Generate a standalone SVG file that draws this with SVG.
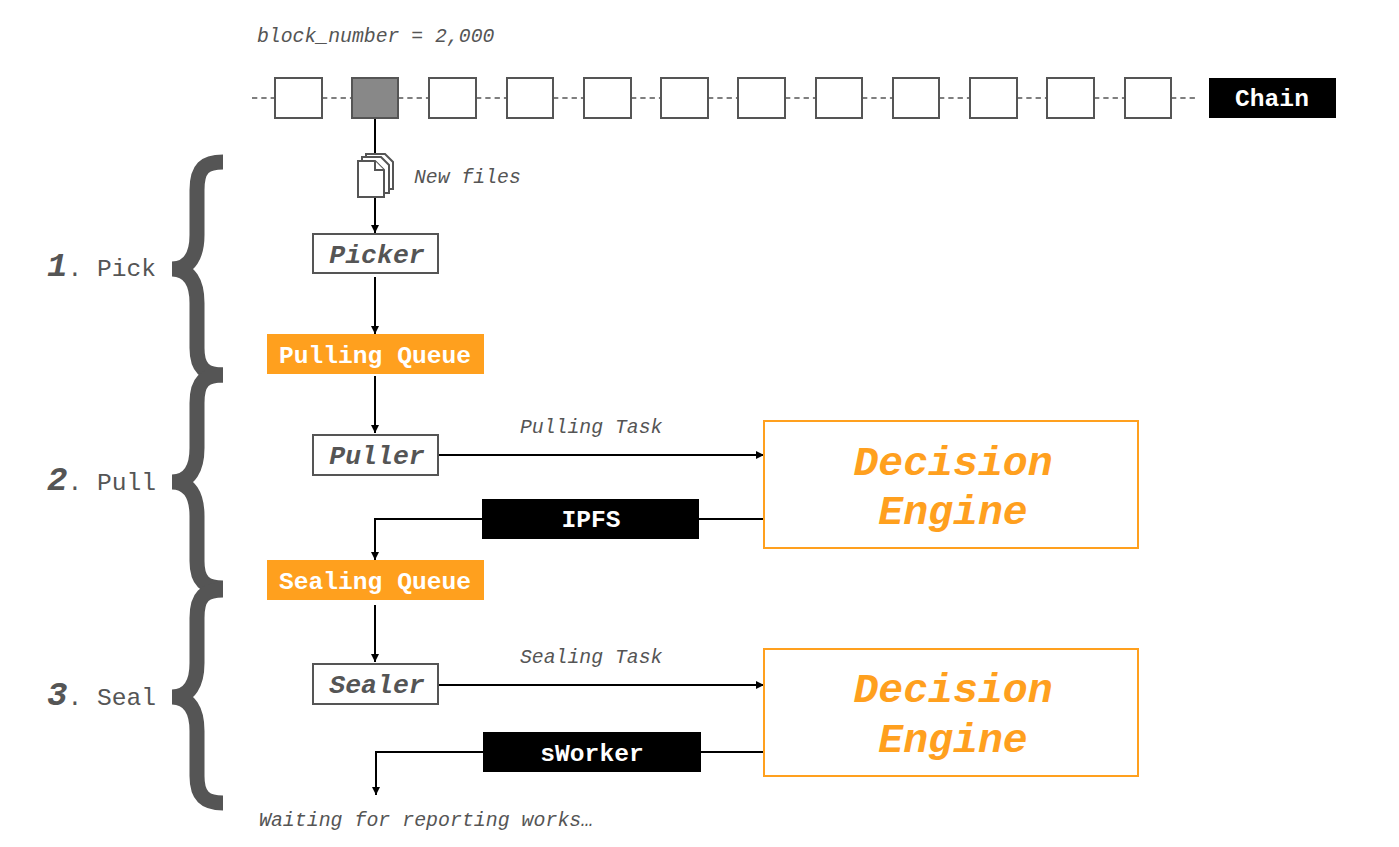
<svg xmlns="http://www.w3.org/2000/svg" width="1399" height="847" viewBox="0 0 1399 847">
<style>
text{font-family:"Liberation Mono","Courier New",monospace;text-anchor:middle}
.lab{font-size:19.8px;font-style:italic;fill:#555;text-anchor:start}
.blk{fill:#fff;stroke:#555;stroke-width:2}
.dash{stroke:#555;stroke-width:1.6;stroke-dasharray:5.3 4;fill:none}
.con{stroke:#000;stroke-width:2;fill:none}
.arr{marker-end:url(#ah)}
.box{fill:#fff;stroke:#555;stroke-width:2}
.boxt{font-size:26.5px;font-weight:bold;font-style:italic;fill:#555}
.q{fill:#FFA01E}
.qt{font-size:24.6px;font-weight:bold;fill:#fff}
.bt{font-size:24.6px;font-weight:bold;fill:#fff}
.de{fill:#fff;stroke:#FFA01E;stroke-width:2}
.det{font-size:41.5px;font-weight:bold;font-style:italic;fill:#FFA01E}
.brace{fill:none;stroke:#555;stroke-width:15;stroke-linejoin:bevel}
.num{font-size:34px;font-weight:bold;font-style:italic}
.step{font-size:24.6px;fill:#555;text-anchor:start}
.doc{fill:#fff;stroke:#555;stroke-width:2;stroke-linejoin:miter}
</style>
<defs>
<marker id="ah" markerUnits="userSpaceOnUse" markerWidth="9" markerHeight="8" refX="8" refY="4" orient="auto"><path d="M0 0L8 4L0 8Z" fill="#000"/></marker>
<path id="b" class="brace" d="M223 0C205 0 197 6 197 28L197 73C197 93 190 107 172 107C190 107 197 121 197 141L197 186C197 206 205 213 223 213"/>
</defs>
<g id="connectors">
<path class="dash" d="M252 98H275M322 98H352M398 98H429M476 98H507M553 98H584M631 98H661M708 98H738M785 98H816M862 98H893M939 98H970M1017 98H1047M1094 98H1125M1171 98H1197"/>
<line class="con" x1="375" y1="118" x2="375" y2="155"/>
<line class="con arr" x1="375" y1="197" x2="375" y2="233"/>
<line class="con arr" x1="375" y1="277" x2="375" y2="334"/>
<line class="con arr" x1="375" y1="376" x2="375" y2="433"/>
<line class="con arr" x1="438" y1="455" x2="764" y2="455"/>
<path class="con" d="M764 519H699"/>
<path class="con arr" d="M482 519H375V560"/>
<line class="con arr" x1="375" y1="605" x2="375" y2="662"/>
<line class="con arr" x1="438" y1="685" x2="764" y2="685"/>
<path class="con" d="M764 752H701"/>
<path class="con arr" d="M483 752H376V795"/>
</g>
<g id="chain">
<rect class="blk" x="275" y="78" width="47" height="40"/>
<rect class="blk" x="352" y="78" width="46" height="40" style="fill:#888"/>
<rect class="blk" x="429" y="78" width="47" height="40"/>
<rect class="blk" x="507" y="78" width="46" height="40"/>
<rect class="blk" x="584" y="78" width="47" height="40"/>
<rect class="blk" x="661" y="78" width="47" height="40"/>
<rect class="blk" x="738" y="78" width="47" height="40"/>
<rect class="blk" x="816" y="78" width="46" height="40"/>
<rect class="blk" x="893" y="78" width="46" height="40"/>
<rect class="blk" x="970" y="78" width="47" height="40"/>
<rect class="blk" x="1047" y="78" width="47" height="40"/>
<rect class="blk" x="1125" y="78" width="46" height="40"/>
</g>
<text class="lab" x="257" y="42">block_number = 2,000</text>
<g id="chain-label"><rect x="1209" y="78" width="127" height="40" fill="#000"/><text class="bt" x="1272" y="106">Chain</text></g>
<g id="files">
<path class="doc" d="M366 154H385L393 162V189H366Z"/>
<path class="doc" d="M362 157H381L389 165V193H362Z"/>
<path class="doc" d="M358 161H375L384 170V197H358Z"/>
<path class="doc" d="M375 161V170H384"/>
<text class="lab" x="414" y="183">New files</text>
</g>
<g id="picker"><rect class="box" x="313" y="234" width="125" height="39"/><text class="boxt" x="377" y="263">Picker</text></g>
<g id="pulling-queue"><rect class="q" x="267" y="334" width="217" height="40"/><text class="qt" x="375" y="363">Pulling Queue</text></g>
<g id="puller"><rect class="box" x="313" y="435" width="125" height="40"/><text class="boxt" x="377" y="464">Puller</text></g>
<text class="lab" x="520" y="433">Pulling Task</text>
<g id="decision1"><rect class="de" x="764" y="421" width="374" height="127"/><text class="det" x="953" y="475">Decision</text><text class="det" x="953" y="524">Engine</text></g>
<g id="ipfs"><rect x="482" y="499" width="217" height="40" fill="#000"/><text class="bt" x="591" y="527">IPFS</text></g>
<g id="sealing-queue"><rect class="q" x="267" y="560" width="217" height="40"/><text class="qt" x="375" y="589">Sealing Queue</text></g>
<g id="sealer"><rect class="box" x="313" y="664" width="125" height="40"/><text class="boxt" x="377" y="693">Sealer</text></g>
<text class="lab" x="520" y="663">Sealing Task</text>
<g id="decision2"><rect class="de" x="764" y="649" width="374" height="127"/><text class="det" x="953" y="702">Decision</text><text class="det" x="953" y="752">Engine</text></g>
<g id="sworker"><rect x="483" y="732" width="218" height="40" fill="#000"/><text class="bt" x="592" y="761">sWorker</text></g>
<text class="lab" x="259" y="826" style="font-size:19.9px">Waiting for reporting works…</text>
<g id="stage1"><use href="#b" y="162"/><text class="step" x="47" y="276"><tspan class="num">1</tspan>. Pick</text></g>
<g id="stage2"><use href="#b" y="375"/><text class="step" x="47" y="490"><tspan class="num">2</tspan>. Pull</text></g>
<g id="stage3"><use href="#b" y="590"/><text class="step" x="47" y="705"><tspan class="num">3</tspan>. Seal</text></g>
</svg>
